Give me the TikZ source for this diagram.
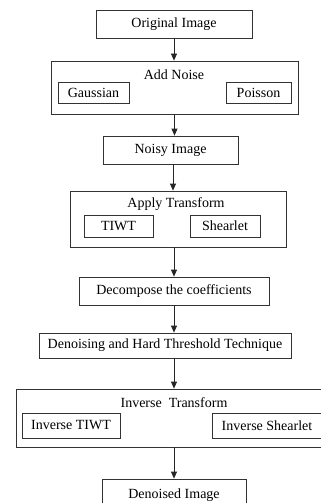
\documentclass[tikz,border=0pt]{standalone}
\usepackage{fontspec}
\setmainfont{Liberation Serif}
\usetikzlibrary{positioning,arrows.meta}

\begin{document}
\begin{tikzpicture}[x=1pt, y=-1pt,
    box/.style={draw=black!80, line width=0.8pt, inner sep=0pt, font=\fontsize{14}{16}\selectfont},
    title/.style={inner sep=0pt, font=\fontsize{14}{16}\selectfont},
    arr/.style={draw=black!85, line width=0.8pt, -{Triangle[length=7pt,width=6pt]}}]
  \useasboundingbox (0,0) rectangle (321,503);
  \clip (0,0) rectangle (321,503);

  % Input image
  \node[box, minimum width=156pt, minimum height=28pt] (orig) at (174,24) {Original Image};

  % Noise block
  \node[box, minimum width=247pt, minimum height=53pt] (noise) at (174.5,87.5) {};
  \node[title] (noisettl) at (174,75) {Add Noise};
  \node[box, minimum width=71pt, minimum height=21pt] (gauss) at (93.5,92.5) {Gaussian};
  \node[box, minimum width=65pt, minimum height=21pt] (poiss) at (258.5,92.5) {Poisson};

  \node[box, minimum width=135pt, minimum height=28pt] (noisy) at (170.5,150) {Noisy Image};

  % Forward transform
  \node[box, minimum width=216pt, minimum height=56pt] (fwd) at (178,219) {};
  \node[title] (fwdttl) at (176,204) {Apply Transform};
  \node[box, minimum width=69pt, minimum height=22pt] (tiwt) at (118.5,226) {TIWT};
  \node[box, minimum width=70pt, minimum height=22pt] (shear) at (225,226) {Shearlet};

  \node[box, minimum width=190pt, minimum height=28pt] (decomp) at (174,291) {Decompose the coefficients};
  \node[box, minimum width=252pt, minimum height=25pt] (thresh) at (165,345.5) {Denoising and Hard Threshold Technique};

  % Inverse transform
  \node[box, minimum width=316pt, minimum height=58pt] (inv) at (174,418) {};
  \node[title] (invttl) at (174,403) {Inverse\ \ Transform};
  \node[box, minimum width=98pt, minimum height=25pt] (itiwt) at (71,425.5) {Inverse TIWT};
  \node[box, minimum width=110pt, minimum height=25pt] (ishear) at (267,425.5) {Inverse Shearlet};

  % Output (runs past the lower edge)
  \node[box, minimum width=144pt, minimum height=32pt] (out) at (174,495) {Denoised Image};

  % Arrows
  \draw[arr] (orig.south) -- (orig.south |- noise.north);
  \draw[arr] (noise.south) -- (noise.south |- noisy.north);
  \draw[arr] (noisy.south) ++(2.5,0) coordinate (n1) -- (n1 |- fwd.north);
  \draw[arr] (fwd.south) ++(-4,0) coordinate (f1) -- (f1 |- decomp.north);
  \draw[arr] (decomp.south) -- (decomp.south |- thresh.north);
  \draw[arr] (thresh.south) ++(9,0) coordinate (t1) -- (t1 |- inv.north);
  \draw[arr] (inv.south) -- (inv.south |- out.north);
\end{tikzpicture}
\end{document}
